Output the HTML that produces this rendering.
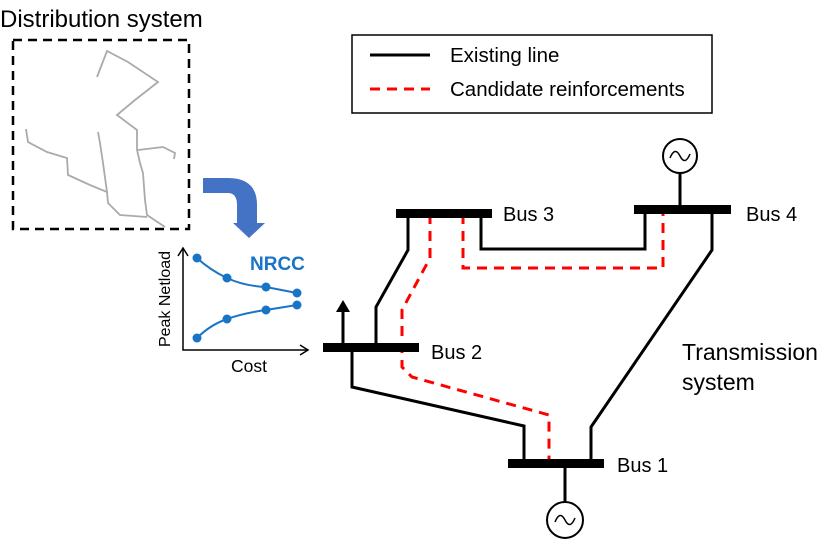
<!DOCTYPE html>
<html><head><style>body{margin:0;background:#fff}svg{display:block}text{font-family:"Liberation Sans",sans-serif}</style></head><body>
<svg width="831" height="548" viewBox="0 0 831 548" xmlns="http://www.w3.org/2000/svg">
<text x="0" y="27" font-size="24" fill="#000">Distribution system</text>
<rect x="13" y="40" width="176" height="189" fill="none" stroke="#000" stroke-width="2.5" stroke-dasharray="9,6"/>
<g fill="none" stroke="#aaa" stroke-width="1.8">
<polyline points="97,77 107,51 128,62 158,82 135,100 117,115 137,130 137,150 140,163 143,173 145,200 147,215 165,227"/>
<polyline points="26,129 28,142 47,152 67,158 68,175 90,185 107,192 108,203 120,215 147,217"/>
<polyline points="98,132 100,143 103,163 107,192"/>
<polyline points="138,150 163,147 175,153 174,159"/>
</g>
<path d="M203,178 L228,178 Q257,178 257,205 L257,223 L265,223 L249,238 L233,223 L237,223 L237,205 Q237,193 228,193 L203,193 Z" fill="#4472C4"/>
<g stroke="#000" stroke-width="1.5" fill="none">
<polyline points="183,248 183,350 308,350"/>
<polyline points="178,256 183,248 188,256"/>
<polyline points="300,345 308,350 300,355"/>
</g>
<g stroke="#1a74c6" stroke-width="2" fill="none">
<path d="M197,258 Q210,270 227,278 T266,287 L297,293"/>
<path d="M197,338 Q210,325 227,319 T266,310 L297,305"/>
</g>
<g fill="#1a74c6">
<circle cx="197" cy="258" r="4.5"/><circle cx="227" cy="278" r="4.5"/><circle cx="266" cy="287" r="4.5"/><circle cx="297" cy="293" r="4.5"/>
<circle cx="197" cy="338" r="4.5"/><circle cx="227" cy="319" r="4.5"/><circle cx="266" cy="310" r="4.5"/><circle cx="297" cy="305" r="4.5"/>
</g>
<text x="250" y="270" font-size="19" font-weight="bold" fill="#1a74c6">NRCC</text>
<text x="231" y="372" font-size="17.5">Cost</text>
<text transform="translate(170,299) rotate(-90)" font-size="16" text-anchor="middle">Peak Netload</text>
<rect x="352" y="35" width="360" height="78" fill="none" stroke="#000" stroke-width="1.5"/>
<line x1="370" y1="55" x2="430" y2="55" stroke="#000" stroke-width="3"/>
<line x1="370" y1="89" x2="430" y2="89" stroke="#f00" stroke-width="3" stroke-dasharray="10,7"/>
<text x="450" y="62" font-size="20.5">Existing line</text>
<text x="450" y="96" font-size="20.5">Candidate reinforcements</text>
<g stroke="#000" stroke-width="3" fill="none">
<polyline points="408,218 408,250 376,307 376,347"/>
<polyline points="481,218 481,249 645,249 645,214"/>
<polyline points="712,214 712,250 591,427 591,464"/>
<polyline points="352,347 352,387 524,426 524,464"/>
<line x1="680" y1="173" x2="680" y2="210"/>
<line x1="565" y1="464" x2="565" y2="502"/>
<line x1="343" y1="347" x2="343" y2="310"/>
<circle cx="680" cy="156" r="17" stroke-width="2"/>
<circle cx="565" cy="520" r="18" stroke-width="2"/>
</g>
<polygon points="343,300 336,312 350,312" fill="#000"/>
<g fill="none" stroke="#000" stroke-width="1.5">
<path d="M670,158 Q675,146 680,156 T690,154"/>
<path d="M555,522 Q560,510 565,520 T575,518"/>
</g>
<g stroke="#f00" stroke-width="3" fill="none" stroke-dasharray="10,7">
<polyline points="430,214 430,258 402,310 402,367 412,377 549,415 549,464"/>
<polyline points="463,214 463,268 663,268 663,210"/>
</g>
<g fill="#000">
<rect x="396" y="209" width="96" height="9"/>
<rect x="634" y="205" width="97" height="9"/>
<rect x="323" y="343" width="96" height="9"/>
<rect x="508" y="459" width="96" height="9"/>
</g>
<g font-size="20">
<text x="503" y="221">Bus 3</text>
<text x="746" y="221">Bus 4</text>
<text x="431" y="359">Bus 2</text>
<text x="617" y="472">Bus 1</text>
</g>
<text x="682" y="360" font-size="23">Transmission</text>
<text x="682" y="390" font-size="23">system</text>
</svg>
</body></html>
